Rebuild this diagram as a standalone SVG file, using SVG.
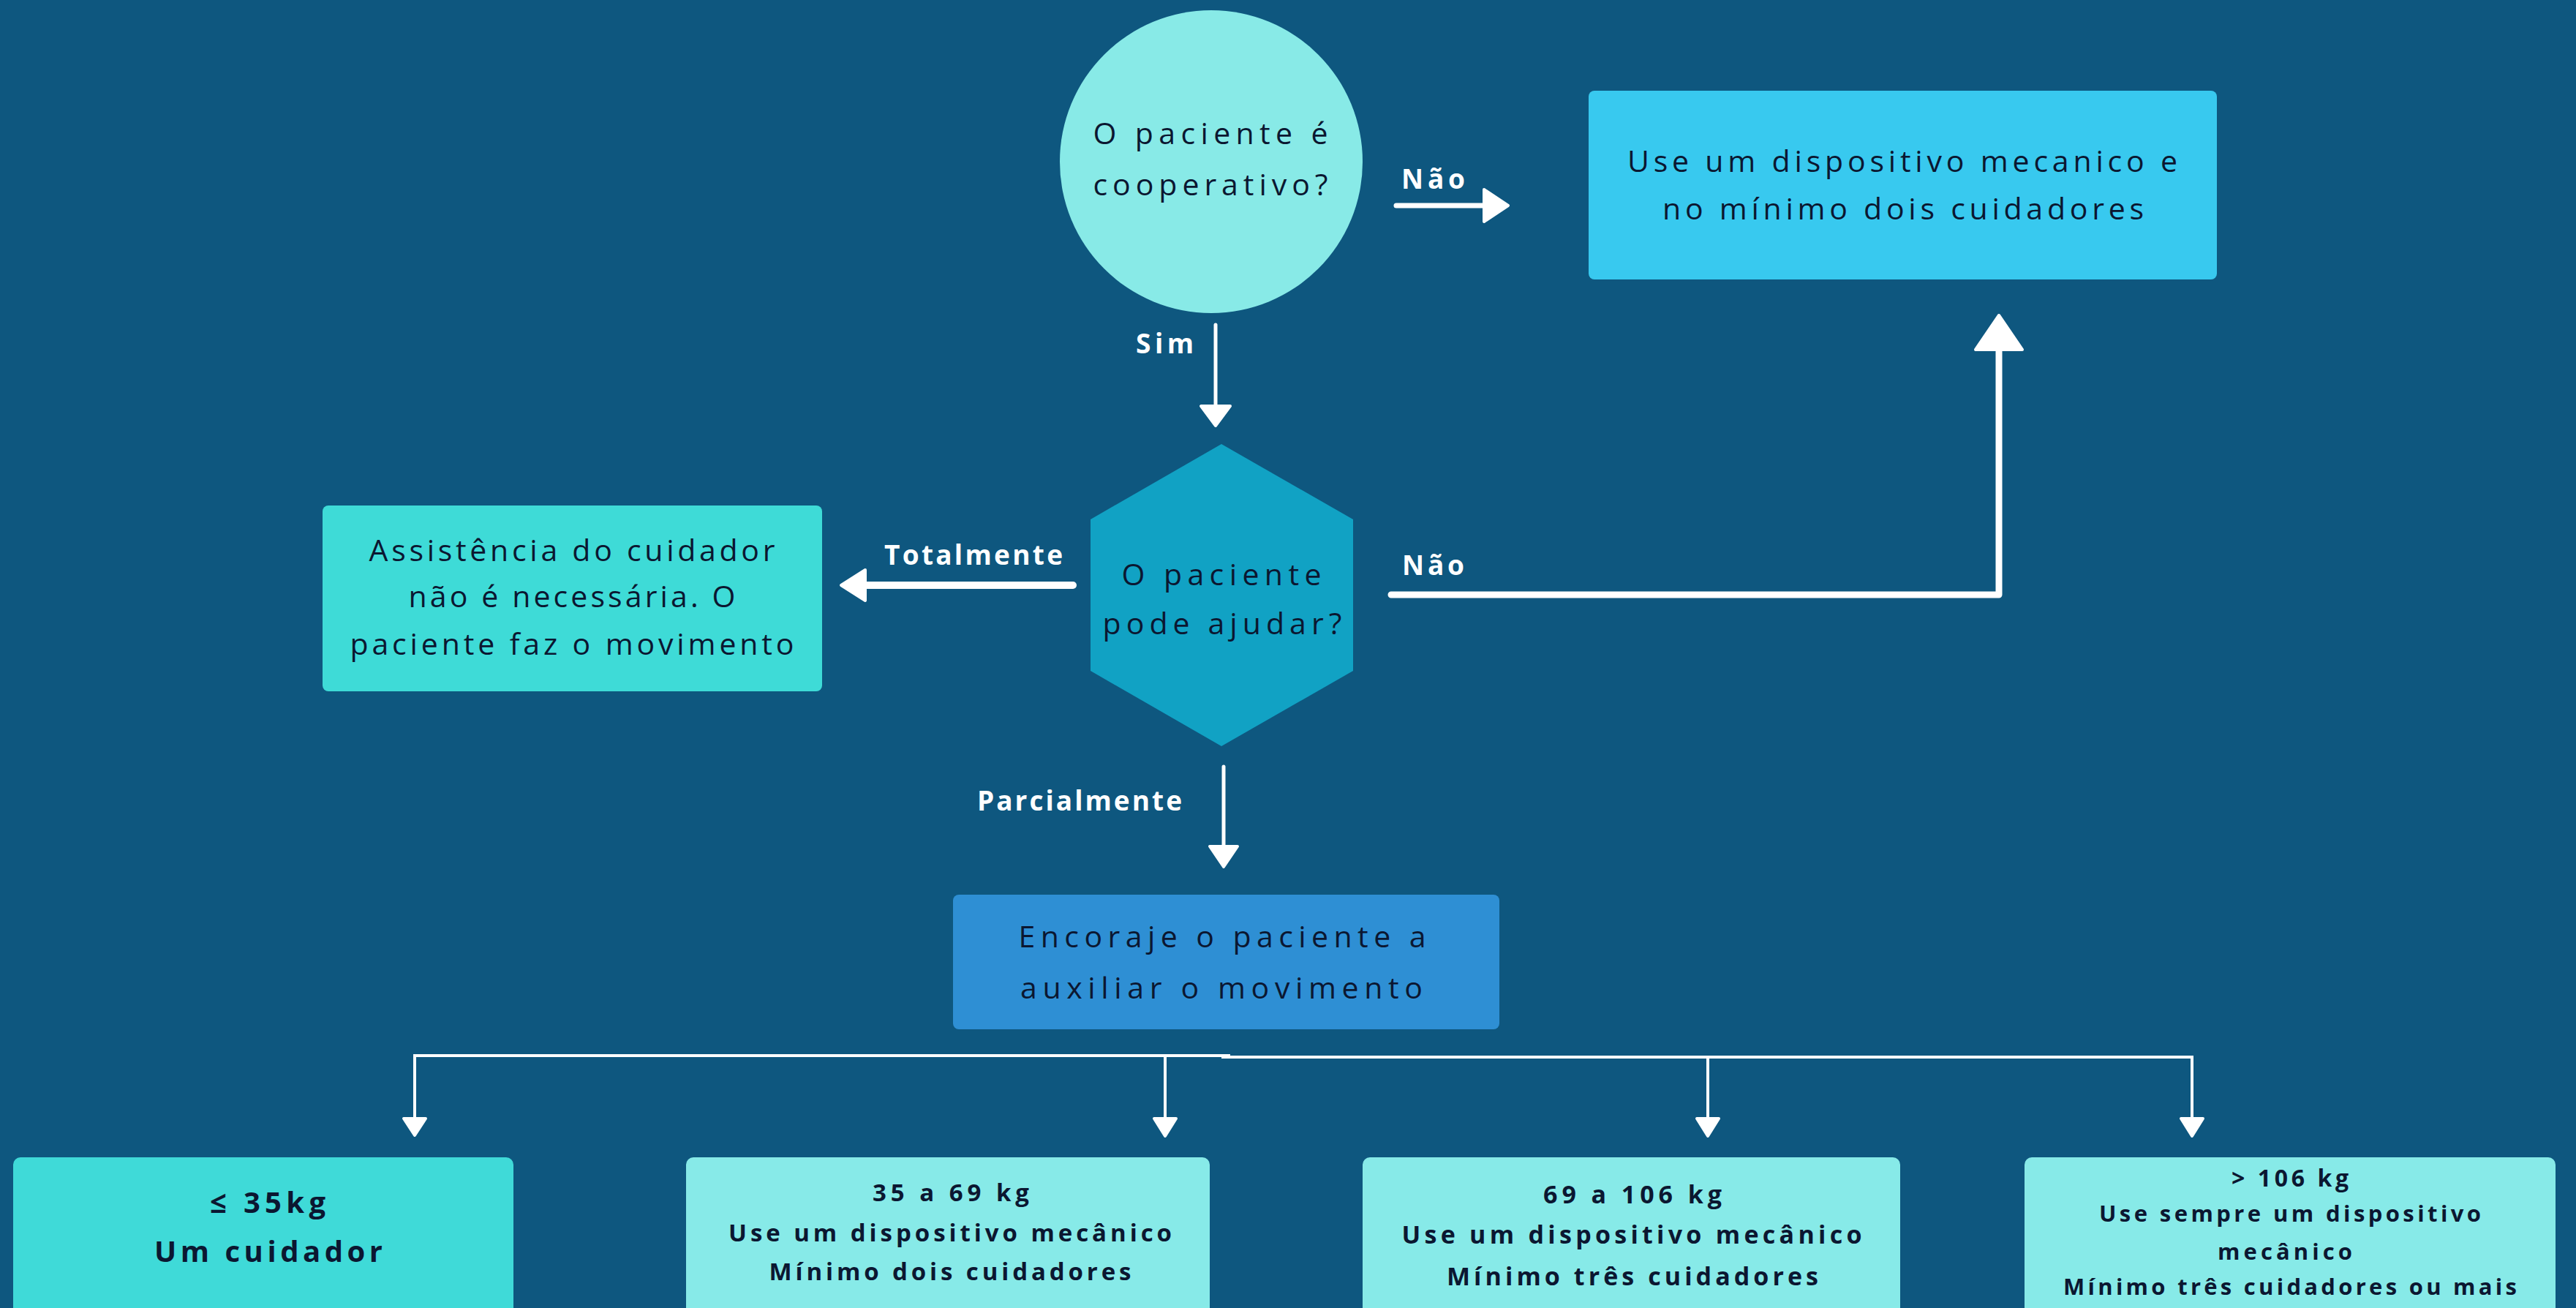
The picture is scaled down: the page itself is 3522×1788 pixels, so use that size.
<svg xmlns="http://www.w3.org/2000/svg" width="3522" height="1788" viewBox="0 0 3522 1788">
<style>
.t{font-family:"Open Sans","Liberation Sans",sans-serif;fill:#0B1731;text-anchor:middle;font-size:41px;font-weight:500}
.b{font-family:"Open Sans","Liberation Sans",sans-serif;fill:#0B1731;text-anchor:middle;font-weight:700}
.lbl{font-family:"Open Sans","Liberation Sans",sans-serif;fill:#FFFFFF;font-weight:700;font-size:37px}
.ln{stroke:#FFFFFF;fill:none;stroke-linecap:round}
.hd{fill:#FFFFFF;stroke:#FFFFFF;stroke-width:4;stroke-linejoin:round}
.thin{stroke:#FFFFFF;fill:none;stroke-width:4}
</style>
<rect x="0" y="0" width="3522" height="1788" fill="#0E577F"/>

<g id="connectors">
  <!-- Não (top) -->
  <line class="ln" x1="1909" y1="281" x2="2032" y2="281" stroke-width="7" stroke-linecap="butt"/>
  <polygon class="hd" points="2029,259 2062,281 2029,303"/>
  <!-- Sim -->
  <line class="ln" x1="1662" y1="444" x2="1662" y2="556" stroke-width="5" stroke-linecap="butt"/>
  <polygon class="hd" points="1642,555 1682,555 1662,582"/>
  <!-- Totalmente -->
  <line class="ln" x1="1467" y1="800" x2="1180" y2="800" stroke-width="10"/>
  <polygon class="hd" points="1183,779 1150,800 1183,821"/>
  <!-- Não (right) -->
  <polyline class="ln" points="1902,813 2733,813 2733,478" stroke-width="9" stroke-linejoin="round"/>
  <polygon class="hd" points="2701,478 2765,478 2733,431"/>
  <!-- Parcialmente -->
  <line class="ln" x1="1673" y1="1048" x2="1673" y2="1158" stroke-width="5" stroke-linecap="butt"/>
  <polygon class="hd" points="1654,1157 1692,1157 1673,1185"/>
  <!-- branch -->
  <polyline class="thin" points="567,1530 567,1443 1682,1443"/>
  <line class="thin" x1="1670" y1="1445" x2="2997" y2="1445"/>
  <line class="thin" x1="1593" y1="1443" x2="1593" y2="1530"/>
  <line class="thin" x1="2335" y1="1445" x2="2335" y2="1530"/>
  <line class="thin" x1="2997" y1="1443" x2="2997" y2="1530"/>
  <polygon class="hd" points="552,1529 582,1529 567,1552"/>
  <polygon class="hd" points="1578,1529 1608,1529 1593,1553"/>
  <polygon class="hd" points="2320,1529 2350,1529 2335,1553"/>
  <polygon class="hd" points="2982,1529 3012,1529 2997,1553"/>
  <!-- labels -->
  <text class="lbl" x="1916" y="258" textLength="87" lengthAdjust="spacing">Não</text>
  <text class="lbl" x="1553" y="483" textLength="79" lengthAdjust="spacing">Sim</text>
  <text class="lbl" x="1209" y="772" textLength="244" lengthAdjust="spacing">Totalmente</text>
  <text class="lbl" x="1917" y="786" textLength="85" lengthAdjust="spacing">Não</text>
  <text class="lbl" x="1336" y="1108" textLength="280" lengthAdjust="spacing">Parcialmente</text>
</g>

<g id="n-cooperativo">
  <circle cx="1656" cy="221" r="207" fill="#88EAE7"/>
  <text class="t" x="1655" y="197" textLength="321" lengthAdjust="spacing">O paciente é</text>
  <text class="t" x="1655" y="267" textLength="321" lengthAdjust="spacing">cooperativo?</text>
</g>

<g id="n-dispositivo">
  <rect x="2172" y="124" width="859" height="258" rx="8" fill="#38C9EF"/>
  <text class="t" x="2601" y="235" textLength="752" lengthAdjust="spacing">Use um dispositivo mecanico e</text>
  <text class="t" x="2602" y="300" textLength="658" lengthAdjust="spacing">no mínimo dois cuidadores</text>
</g>

<g id="n-ajudar">
  <polygon points="1670,607 1850,710 1850,917 1670,1020 1491,917 1491,710" fill="#11A2C4"/>
  <text class="t" x="1670" y="800" textLength="273" lengthAdjust="spacing">O paciente</text>
  <text class="t" x="1671" y="867" textLength="327" lengthAdjust="spacing">pode ajudar?</text>
</g>

<g id="n-assistencia">
  <rect x="441" y="691" width="683" height="254" rx="8" fill="#3EDBD7"/>
  <text class="t" x="782" y="767" textLength="555" lengthAdjust="spacing">Assistência do cuidador</text>
  <text class="t" x="782" y="830" textLength="447" lengthAdjust="spacing">não é necessária. O</text>
  <text class="t" x="782" y="895" textLength="607" lengthAdjust="spacing">paciente faz o movimento</text>
</g>

<g id="n-encoraje">
  <rect x="1303" y="1223" width="747" height="184" rx="8" fill="#2E8FD4"/>
  <text class="t" x="1671" y="1295" textLength="557" lengthAdjust="spacing">Encoraje o paciente a</text>
  <text class="t" x="1670" y="1365" textLength="550" lengthAdjust="spacing">auxiliar o movimento</text>
</g>

<g id="n-35">
  <rect x="18" y="1582" width="684" height="230" rx="10" fill="#3FDAD8"/>
  <text class="b" x="366" y="1658" font-size="40" textLength="158" lengthAdjust="spacing">≤ 35kg</text>
  <text class="b" x="367" y="1725" font-size="40" textLength="312" lengthAdjust="spacing">Um cuidador</text>
</g>

<g id="n-35-69">
  <rect x="938" y="1582" width="716" height="230" rx="10" fill="#87EAE8"/>
  <text class="b" x="1300" y="1642" font-size="33" textLength="214" lengthAdjust="spacing">35 a 69 kg</text>
  <text class="b" x="1299" y="1697" font-size="33" textLength="606" lengthAdjust="spacing">Use um dispositivo mecânico</text>
  <text class="b" x="1299" y="1750" font-size="33" textLength="495" lengthAdjust="spacing">Mínimo dois cuidadores</text>
</g>

<g id="n-69-106">
  <rect x="1863" y="1582" width="735" height="230" rx="10" fill="#87EAE8"/>
  <text class="b" x="2232" y="1645" font-size="34" textLength="244" lengthAdjust="spacing">69 a 106 kg</text>
  <text class="b" x="2231" y="1700" font-size="34" textLength="629" lengthAdjust="spacing">Use um dispositivo mecânico</text>
  <text class="b" x="2232" y="1757" font-size="34" textLength="508" lengthAdjust="spacing">Mínimo três cuidadores</text>
</g>

<g id="n-106">
  <rect x="2768" y="1582" width="726" height="230" rx="10" fill="#87EAE8"/>
  <text class="b" x="3131" y="1622" font-size="32" textLength="160" lengthAdjust="spacing">&gt; 106 kg</text>
  <text class="b" x="3131" y="1670" font-size="31" textLength="522" lengthAdjust="spacing">Use sempre um dispositivo</text>
  <text class="b" x="3124" y="1722" font-size="31" textLength="184" lengthAdjust="spacing">mecânico</text>
  <text class="b" x="3131" y="1770" font-size="31" textLength="620" lengthAdjust="spacing">Mínimo três cuidadores ou mais</text>
</g>
</svg>
